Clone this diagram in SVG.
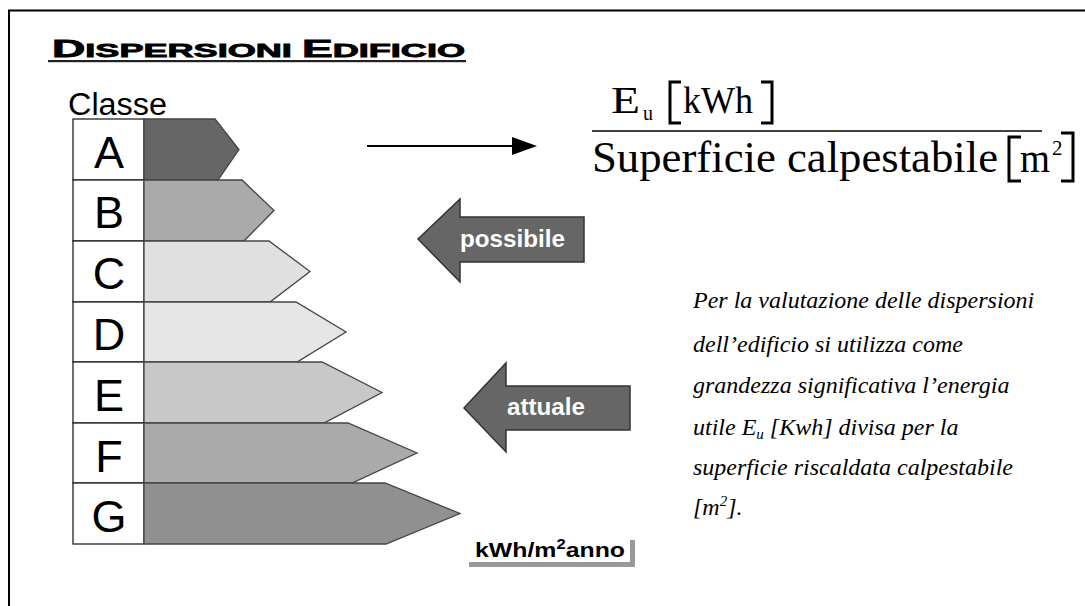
<svg xmlns="http://www.w3.org/2000/svg" width="1085" height="606" viewBox="0 0 1085 606">
<style>
.frame{fill:none;stroke:#000;stroke-width:2}
.cell{fill:#fff;stroke:#222;stroke-width:1.3}
.bar{stroke:#444;stroke-width:1.3}
.letter{font-family:"Liberation Sans",Arial,sans-serif;font-size:45px;fill:#000;text-anchor:middle}
.big{fill:#666;stroke:#333;stroke-width:1.5}
.bigt{font-family:"Liberation Sans",Arial,sans-serif;font-weight:bold;font-size:23px;fill:#fff}
.tnr{font-family:"Liberation Serif","Times New Roman",serif;fill:#000}
.para{font-family:"Liberation Serif","Times New Roman",serif;font-style:italic;font-size:24px;fill:#000}
</style>
<rect width="1085" height="606" fill="#fff"/>
<path class="frame" d="M9,606 V10.5 H1085"/>

<g id="title">
<text x="52" y="57" font-family="Liberation Sans,Arial,sans-serif" font-weight="bold" fill="#000" stroke="#000" stroke-width="0.8" textLength="413" lengthAdjust="spacingAndGlyphs"><tspan font-size="23">D</tspan><tspan font-size="18">ISPERSIONI </tspan><tspan font-size="23">E</tspan><tspan font-size="18">DIFICIO</tspan></text>
<rect x="48" y="60" width="418" height="2.2" fill="#222"/>
</g>

<g id="classe">
<text x="68" y="115" font-family="Liberation Sans,Arial,sans-serif" font-size="31" fill="#000" textLength="99" lengthAdjust="spacingAndGlyphs">Classe</text>
</g>

<g id="class-A">
<rect class="cell" x="73" y="119" width="71" height="61"/>
<polygon class="bar" fill="#666" points="144,119 215,119 239,149.5 218,180 144,180"/>
<text class="letter" x="109" y="168">A</text>
</g>
<g id="class-B">
<rect class="cell" x="73" y="180" width="71" height="61"/>
<polygon class="bar" fill="#aaa" points="144,180 242,180 274,210.5 244,241 144,241"/>
<text class="letter" x="109" y="228">B</text>
</g>
<g id="class-C">
<rect class="cell" x="73" y="241" width="71" height="61"/>
<polygon class="bar" fill="#e0e0e0" points="144,241 269,241 310,271.5 270,302 144,302"/>
<text class="letter" x="109" y="289">C</text>
</g>
<g id="class-D">
<rect class="cell" x="73" y="302" width="71" height="60"/>
<polygon class="bar" fill="#e6e6e6" points="144,302 296,302 346,332 297,362 144,362"/>
<text class="letter" x="109" y="350">D</text>
</g>
<g id="class-E">
<rect class="cell" x="73" y="362" width="71" height="61"/>
<polygon class="bar" fill="#c8c8c8" points="144,362 322,362 382,392.5 324,423 144,423"/>
<text class="letter" x="109" y="411">E</text>
</g>
<g id="class-F">
<rect class="cell" x="73" y="423" width="71" height="60"/>
<polygon class="bar" fill="#aaa" points="144,423 348,423 417,453 352,483 144,483"/>
<text class="letter" x="109" y="472">F</text>
</g>
<g id="class-G">
<rect class="cell" x="73" y="483" width="71" height="61"/>
<polygon class="bar" fill="#909090" points="144,483 385,483 460,513.5 386,544 144,544"/>
<text class="letter" x="109" y="532">G</text>
</g>

<g id="connectors">
<line x1="367" y1="146" x2="514" y2="146" stroke="#000" stroke-width="1.8"/>
<polygon points="512,137 537,146 512,155" fill="#000"/>
</g>

<g id="formula">
<text class="tnr" x="611" y="113" font-size="38" textLength="29" lengthAdjust="spacingAndGlyphs">E</text>
<text class="tnr" x="643" y="120" font-size="20">u</text>
<path d="M681,82 H670 V123 H681" fill="none" stroke="#000" stroke-width="3"/>
<text class="tnr" x="683" y="113" font-size="38" textLength="70" lengthAdjust="spacingAndGlyphs">kWh</text>
<path d="M761,82 H772 V123 H761" fill="none" stroke="#000" stroke-width="3"/>
<line x1="592" y1="131" x2="1042" y2="131" stroke="#000" stroke-width="1.6"/>
<text class="tnr" x="592" y="172" font-size="44" textLength="406" lengthAdjust="spacingAndGlyphs">Superficie calpestabile</text>
<path d="M1021,137 H1009 V181 H1021" fill="none" stroke="#000" stroke-width="3"/>
<text class="tnr" x="1020" y="172" font-size="42" textLength="30" lengthAdjust="spacingAndGlyphs">m</text>
<text class="tnr" x="1052" y="155" font-size="21">2</text>
<path d="M1061,133 H1073 V181 H1061" fill="none" stroke="#000" stroke-width="3"/>
</g>

<g id="possibile">
<polygon class="big" points="418,239 460,199 460,217 584,217 584,262 460,262 460,282"/>
<text class="bigt" x="460" y="247" textLength="105" lengthAdjust="spacingAndGlyphs">possibile</text>
</g>

<g id="attuale">
<polygon class="big" points="464,408 506,363 506,386 630,386 630,430 506,430 506,452"/>
<text class="bigt" x="507" y="415" textLength="78" lengthAdjust="spacingAndGlyphs">attuale</text>
</g>

<g id="description">
<text class="para" x="693" y="308">Per la valutazione delle dispersioni</text>
<text class="para" x="693" y="352">dell’edificio si utilizza come</text>
<text class="para" x="693" y="393">grandezza significativa l’energia</text>
<text class="para" x="693" y="435">utile E<tspan font-size="15" dy="4">u</tspan><tspan dy="-4"> [Kwh] divisa per la</tspan></text>
<text class="para" x="693" y="475">superficie riscaldata calpestabile</text>
<text class="para" x="693" y="515">[m<tspan font-size="15" dy="-9">2</tspan><tspan dy="9">].</tspan></text>
</g>

<g id="unit">
<path d="M469,564.5 H632.5 V540" fill="none" stroke="#999" stroke-width="5"/>
<text x="475" y="557" font-family="Liberation Sans,Arial,sans-serif" font-weight="bold" font-size="21" fill="#000" textLength="150" lengthAdjust="spacingAndGlyphs">kWh/m<tspan font-size="14" dy="-8">2</tspan><tspan dy="8">anno</tspan></text>
</g>
</svg>
